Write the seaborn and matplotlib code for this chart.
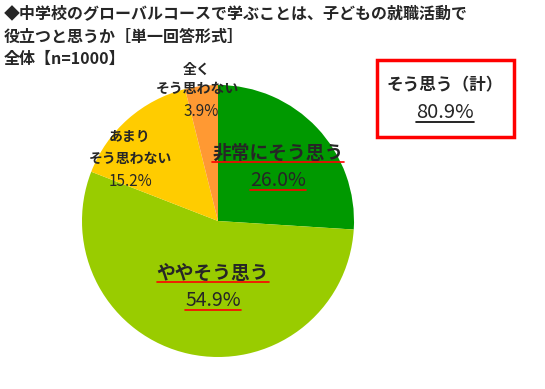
import matplotlib
matplotlib.use("Agg")
import matplotlib.pyplot as plt
import seaborn as sns
from matplotlib.lines import Line2D
from matplotlib.patches import Rectangle

sns.set_style("white")
plt.rcParams['font.family'] = ['Noto Sans CJK JP', 'DejaVu Sans']

# data
categories = ["非常にそう思う", "ややそう思う", "あまりそう思わない", "全くそう思わない"]
values = [26.0, 54.9, 15.2, 3.9]
colors = ["#009900", "#99CC00", "#FFCC00", "#FF9933"]
title_lines = ["◆中学校のグローバルコースで学ぶことは、子どもの就職活動で",
               "役立つと思うか［単一回答形式］",
               "全体【n=1000】"]
total_label = "そう思う（計）"
total_value = "80.9%"

W, H = 545, 389
fig = plt.figure(figsize=(W / 100, H / 100), dpi=100)


def px(x, y):
    return x / W, 1 - y / H


# pie: center ~ (218, 221), radius ~136 px
cx, cy, r = 218, 221, 136
ax = fig.add_axes([(cx - r) / W, (H - cy - r) / H, 2 * r / W, 2 * r / H])
ax.pie(values, colors=colors, startangle=90, counterclock=False,
       wedgeprops=dict(linewidth=0))
ax.set_xlim(-1, 1)
ax.set_ylim(-1, 1)
ax.axis("off")

# title
for line, y in zip(title_lines, [14, 37, 59]):
    fig.text(*px(4, y), line, fontsize=11.5, fontweight="bold", va="center", ha="left")

underlined = []

# slice labels
t = fig.text(*px(278, 153), categories[0], fontsize=13.5, fontweight="bold", ha="center", va="center")
underlined.append(t)
t = fig.text(*px(278, 180), f"{values[0]:.1f}%", fontsize=14, ha="center", va="center")
underlined.append(t)
t = fig.text(*px(213, 273), categories[1], fontsize=13.5, fontweight="bold", ha="center", va="center")
underlined.append(t)
t = fig.text(*px(213, 300), f"{values[1]:.1f}%", fontsize=14, ha="center", va="center")
underlined.append(t)

fig.text(*px(130, 137), "あまり", fontsize=10, fontweight="bold", ha="center", va="center")
fig.text(*px(130, 159), "そう思わない", fontsize=10, fontweight="bold", ha="center", va="center")
fig.text(*px(130, 181), f"{values[2]:.1f}%", fontsize=11, ha="center", va="center")

fig.text(*px(197, 70), "全く", fontsize=10, fontweight="bold", ha="center", va="center")
fig.text(*px(197, 89), "そう思わない", fontsize=10, fontweight="bold", ha="center", va="center")
fig.text(*px(201, 112), f"{values[3]:.1f}%", fontsize=11, ha="center", va="center")

# total box
fig.patches.append(Rectangle(px(377, 137), 137 / W, 77 / H, transform=fig.transFigure,
                             fill=False, edgecolor="#FF0000", linewidth=2.5))
fig.text(*px(445, 85), total_label, fontsize=12, fontweight="bold", ha="center", va="center")
tot = fig.text(*px(445, 112), total_value, fontsize=14.5, ha="center", va="center")

# underlines
fig.canvas.draw()
renderer = fig.canvas.get_renderer()
for t, col in [(u, "#FF0000") for u in underlined] + [(tot, "black")]:
    bb = t.get_window_extent(renderer)
    y = bb.y0 + 1
    fig.lines.append(Line2D([bb.x0 / W, bb.x1 / W], [y / H, y / H],
                            transform=fig.transFigure, color=col, linewidth=1.2))

fig.savefig("out.png", dpi=100)
